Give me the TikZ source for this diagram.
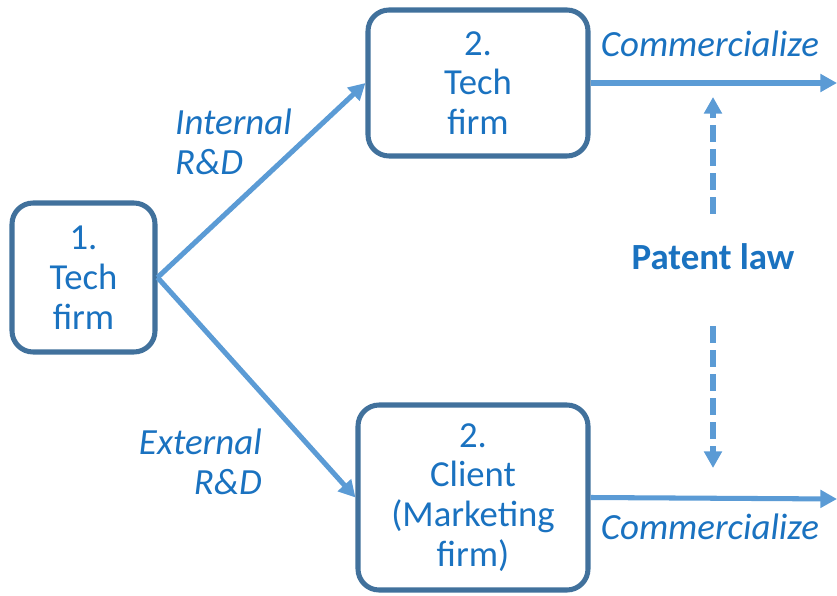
\documentclass[tikz,border=0pt]{standalone}
\usepackage{fontspec}
\setmainfont{Carlito}
\usetikzlibrary{arrows.meta}
\definecolor{boxblue}{HTML}{41719C}
\definecolor{flowblue}{HTML}{5B9BD5}
\definecolor{textblue}{HTML}{1A72C0}
\tikzset{
    firm/.style={draw=boxblue,line width=4.3pt,rounded corners=18pt,fill=white,
        align=center,text=textblue,font=\fontsize{31.3}{34}\selectfont,inner sep=0pt},
    flow/.style={->,color=flowblue,line width=4.3pt},
    legal/.style={->,color=flowblue,line width=5pt,dash pattern=on 0.5cm off 0.22cm},
    tag/.style={text=textblue,font=\fontsize{31.5}{34}\selectfont\itshape,inner sep=0pt}
}
\begin{document}
\begin{tikzpicture}[line join=round,>={Triangle[length=0.5cm,width=0.52cm]},x=0.03cm,y=-0.03cm]
    \useasboundingbox (0,0) rectangle (837,596);
    % the three firms
    \node[firm,minimum width=143*0.03cm,minimum height=149*0.03cm] (tech1) at (83.5,277.5) {1.\\Tech\\firm};
    \node[firm,minimum width=220*0.03cm,minimum height=146*0.03cm] (tech2) at (478,83) {2.\\Tech\\firm};
    \node[firm,minimum width=230*0.03cm,minimum height=185*0.03cm] (client) at (473,497.5) {2.\\Client\\(Marketing\\firm)};
    % R&D routes
    \draw[flow] (tech1.east) -- (tech2.west);
    \draw[flow] (tech1.east) -- (client.west);
    \node[tag,anchor=west,align=left] (internal) at (175,142) {Internal\\R\&D};
    \node[tag,anchor=east,align=right] (external) at (262,462) {External\\R\&D};
    % commercialization
    \coordinate (out1) at (837,83);
    \coordinate (out2) at (837,499);
    \draw[flow] (tech2.east) -- (out1);
    \draw[flow] (client.east) -- (out2);
    \node[tag] (comm1) at (710,44) {Commercialize};
    \node[tag] (comm2) at (710,527) {Commercialize};
    % patent law
    \node[text=textblue,font=\fontsize{31.5}{34}\selectfont\bfseries,inner sep=0pt] (law) at (713,257) {Patent law};
    \coordinate (up) at (713,97);
    \coordinate (down) at (713,468);
    \draw[legal,shorten <=30*0.03cm] (law.north) -- (up);
    \draw[legal,shorten <=56*0.03cm] (law.south) -- (down);
\end{tikzpicture}
\end{document}
